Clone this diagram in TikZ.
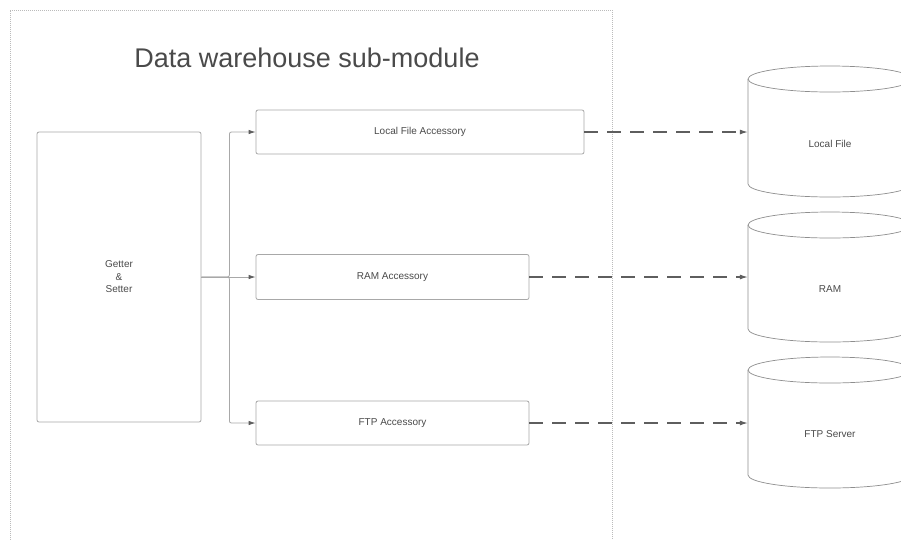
\documentclass[tikz,border=0pt]{standalone}
\usepackage{fontspec}
\setmainfont{Liberation Sans}
\usetikzlibrary{arrows.meta}
\definecolor{boxline}{HTML}{A8A8A8}
\definecolor{frameline}{HTML}{BBBBBB}
\definecolor{arrowline}{HTML}{5E5E5E}
\definecolor{txt}{HTML}{4A4A4A}
\tikzset{
  box/.style={draw=boxline, line width=0.8pt, rounded corners=2pt, inner sep=0pt,
    text=txt, font=\fontsize{10}{12.5}\selectfont, align=center},
  branch/.style={draw=boxline, line width=0.8pt, rounded corners=2pt,
    -{Latex[length=7pt,width=4.5pt,color=arrowline]}},
  link/.style={draw=arrowline, line width=1.1pt, dash pattern=on 14pt off 9pt,
    -{Latex[length=8pt,width=5pt]}},
  dbshape/.style={draw=arrowline!70, line width=0.7pt},
  dblabel/.style={text=txt, font=\fontsize{10}{12.5}\selectfont},
  dbbody/.style={inner sep=0pt, minimum width=164pt, minimum height=105pt}
}
\begin{document}
\begin{tikzpicture}[x=1pt,y=-1pt]
\useasboundingbox (0,0) rectangle (901,539);
\clip (0,0) rectangle (901,539);
\fill[white] (0,0) rectangle (901,539);

% module frame
\draw[frameline, line width=0.6pt, dash pattern=on 1pt off 1pt] (10,560) -- (10,10) -- (612,10) -- (612,560);
\node[text=txt, font=\fontsize{27}{32}\selectfont] (title) at (307,58) {Data warehouse sub-module};

% accessor boxes
\node[box, minimum width=164pt, minimum height=290pt] (gs) at (119,277) {Getter\\\&\\Setter};
\node[box, minimum width=328pt, minimum height=44pt] (lfa) at (420,132) {Local File Accessory};
\node[box, minimum width=273pt, minimum height=45pt] (rama) at (392.5,277) {RAM Accessory};
\node[box, minimum width=273pt, minimum height=44pt] (ftpa) at (392.5,423) {FTP Accessory};

% storage cylinders
\foreach \yt/\yb in {79/184, 225/329, 370/475}{
  \draw[dbshape] (748,\yt) -- (748,\yb)
    arc[start angle=180, end angle=0, x radius=82, y radius=13] -- (912,\yt);
  \draw[dbshape] (830,\yt) ellipse[x radius=82, y radius=13];
}
\node[dbbody] (lf) at (830,131.5) {};
\node[dbbody] (ram) at (830,277) {};
\node[dbbody] (ftp) at (830,422.5) {};
\node[dblabel] (lft) at (830,144) {Local File};
\node[dblabel] (ramt) at (830,289) {RAM};
\node[dblabel] (ftpt) at (830,434) {FTP Server};

% branching connectors
\draw[branch] (gs.east) -- ++(28,0) |- (lfa.west);
\draw[branch] (gs.east) -- ++(28,0) |- (ftpa.west);
\draw[branch] (gs.east) -- (gs.east -| rama.west);

% dashed access links
\draw[link] (lfa.east) -- (lfa.east -| lf.west);
\draw[link] (rama.east) -- (rama.east -| ram.west);
\draw[link] (ftpa.east) -- (ftpa.east -| ftp.west);
\end{tikzpicture}
\end{document}
